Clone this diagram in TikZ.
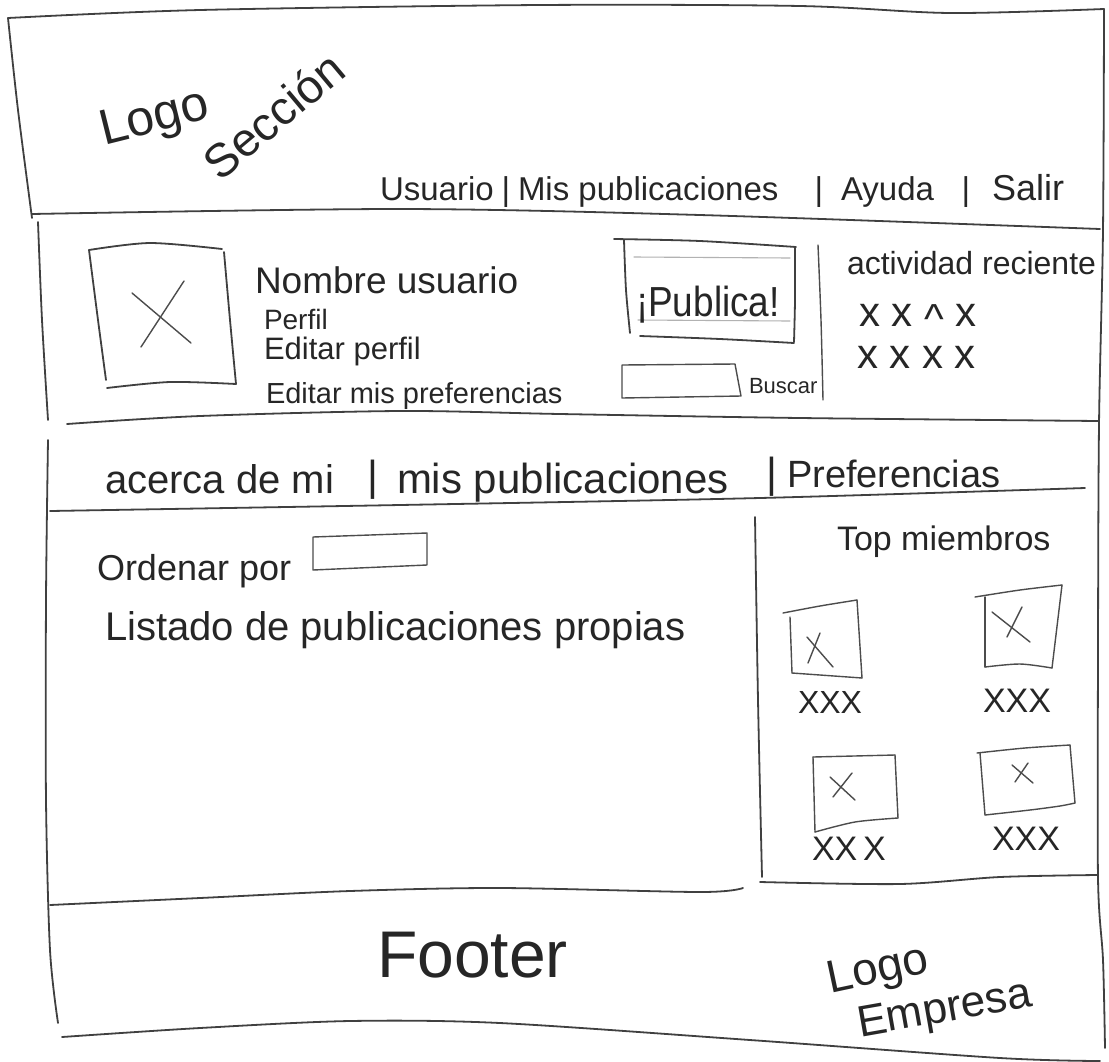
\documentclass[tikz,border=0pt]{standalone}
\usepackage{fontspec}
\setmainfont{Liberation Sans}
\newcommand{\fsz}[1]{\fontsize{#1}{#1}\selectfont}
\tikzset{
  pen/.style={draw=black!75, line width=1.8pt, line cap=round, line join=round},
  thinpen/.style={draw=black!70, line width=1.4pt, line cap=round, line join=round},
  faint/.style={draw=black!30, line width=1.1pt, line cap=round},
  hand/.style={inner sep=0pt, outer sep=0pt, text=black!85, anchor=base west},
  barmark/.style={inner sep=0pt, outer sep=0pt, text=black!85, anchor=base},
}
\begin{document}
\begin{tikzpicture}[x=1pt,y=-1pt]
\fill[white] (0,0) rectangle (1109,1061);
\path[use as bounding box] (0,0) rectangle (1109,1061);

% ---------- frame and section lines ----------
\draw[pen] plot[smooth, tension=0.5] coordinates {(8,18) (200,10) (540,5) (800,6) (950,13) (1104,9)};
\draw[pen] plot[smooth, tension=0.5] coordinates {(8,18) (18,110) (32,218)};
\draw[pen] plot[smooth, tension=0.5] coordinates {(1104,9) (1103,230) (1099,425) (1098,650) (1098,878) (1103,960) (1105,1048)};
\draw[pen] plot[smooth, tension=0.5] coordinates {(32,214) (400,209) (700,215) (1100,229)};
% profile section
\draw[pen] plot[smooth, tension=0.5] coordinates {(38,222) (42,320) (48,420)};
\draw[pen] plot[smooth, tension=0.5] coordinates {(67,424) (200,416) (400,411) (560,414) (800,418) (1099,421)};
% tabs and content
\draw[pen] plot[smooth, tension=0.5] coordinates {(48,440) (46,600) (46,800) (50,950) (58,1023)};
\draw[pen] plot[smooth, tension=0.5] coordinates {(50,511) (400,505) (760,498) (1085,488)};
\draw[pen] plot[smooth, tension=0.5] coordinates {(755,517) (758,700) (762,877)};
\draw[pen] plot[smooth, tension=0.5] coordinates {(760,882) (900,884) (1000,877) (1097,875)};
% footer
\draw[pen] plot[smooth, tension=0.5] coordinates {(50,905) (200,898) (350,891) (500,888) (700,892) (743,888)};
\draw[pen] plot[smooth, tension=0.5] coordinates {(62,1037) (200,1028) (350,1021) (500,1023) (750,1040) (1000,1058) (1100,1061)};

% ---------- header ----------
\node[hand, rotate=14, font=\fsz{50}] (logo) at (104,145) {Logo};
\node[hand, rotate=40, font=\fsz{47}] (seccion) at (220,182) {Sección};
\node[hand, font=\fsz{33}] (navuser) at (380,200) {Usuario};
\node[barmark, font=\fsz{33}] (navbarA) at (506,200) {|};
\node[hand, font=\fsz{33}] (navpubs) at (518,200) {Mis publicaciones};
\node[barmark, font=\fsz{33}] (navbarB) at (819,200) {|};
\node[hand, font=\fsz{33}] (navhelp) at (841,200) {Ayuda};
\node[barmark, font=\fsz{33}] (navbarC) at (966,200) {|};
\node[hand, font=\fsz{36}] (navexit) at (992,200) {Salir};

% ---------- profile ----------
\draw[pen] plot[smooth, tension=0.5] coordinates {(89,250) (150,243) (222,249)};
\draw[pen] plot[smooth, tension=0.5] coordinates {(224,252) (230,320) (236,384)};
\draw[pen] plot[smooth, tension=0.5] coordinates {(89,250) (98,320) (106,380)};
\draw[pen] plot[smooth, tension=0.5] coordinates {(107,388) (170,382) (236,384)};
\draw[thinpen] (132,293) -- (191,343);
\draw[thinpen] (184,281) -- (141,347);

\node[hand, font=\fsz{37}] (nombre) at (255,293) {Nombre usuario};
\node[hand, font=\fsz{28}] (perfil) at (264,329) {Perfil};
\node[hand, font=\fsz{31}] (editperfil) at (264,359) {Editar perfil};
\node[hand, font=\fsz{29}] (editpref) at (266,403) {Editar mis preferencias};

% publica button
\draw[pen] plot[smooth, tension=0.5] coordinates {(614,239) (700,241) (796,247)};
\draw[pen] plot[smooth, tension=0.5] coordinates {(795,247) (795,300) (794,342)};
\draw[pen] plot[smooth, tension=0.5] coordinates {(640,336) (720,339) (794,343)};
\draw[pen] plot[smooth, tension=0.5] coordinates {(624,240) (626,290) (630,333)};
\draw[faint] (634,257) -- (790,258);
\draw[faint] (638,320) -- (790,321);
\node[hand, font=\fsz{42}] (publica) at (636,316) {\scalebox{0.88}[1]{¡Publica!}};

% search
\draw[thinpen] (622,365) -- (735,364) -- (741,396) -- (622,398) -- cycle;
\node[hand, font=\fsz{22}] (buscar) at (749,393) {Buscar};
\draw[thinpen] plot[smooth, tension=0.5] coordinates {(818,245) (821,320) (823,400)};

% recent activity
\node[hand, font=\fsz{32}] (actividad) at (847,274) {actividad reciente};
\node[hand, font=\fsz{42}] (actrowA) at (859,326) {x x \raisebox{-0.35ex}{\^{}} x};
\node[hand, font=\fsz{42}] (actrowB) at (857,368) {x x x x};

% ---------- tabs ----------
\node[hand, font=\fsz{40}] (tababout) at (105,493) {acerca de mi};
\node[barmark, font=\fsz{42}] (tabbarA) at (373,490) {|};
\node[hand, font=\fsz{42}] (tabpubs) at (397,493) {mis publicaciones};
\node[barmark, font=\fsz{42}] (tabbarB) at (772,487) {|};
\node[hand, font=\fsz{38}] (tabprefs) at (787,487) {Preferencias};

% ---------- content ----------
\node[hand, font=\fsz{36}] (ordenar) at (97,580) {Ordenar por};
\draw[thinpen] (313,537) -- (427,533) -- (427,565) -- (313,570) -- cycle;
\node[hand, font=\fsz{40}] (listado) at (105,640) {Listado de publicaciones propias};

% ---------- top members ----------
\node[hand, font=\fsz{34}] (topmiem) at (837,550) {Top miembros};
% member 1
\draw[thinpen] plot[smooth, tension=0.5] coordinates {(783,613) (820,606) (857,600)};
\draw[thinpen] (857,600) -- (862,678);
\draw[thinpen] (792,673) -- (862,678);
\draw[thinpen] (790,617) -- (792,673);
\draw[thinpen] (807,637) -- (833,667);
\draw[thinpen] (820,633) -- (808,663);
\node[hand, font=\fsz{32}] (memlabA) at (798,713) {XXX};
% member 2
\draw[thinpen] plot[smooth, tension=0.5] coordinates {(975,597) (1020,590) (1062,585)};
\draw[thinpen] (1062,585) -- (1052,668);
\draw[thinpen] plot[smooth, tension=0.5] coordinates {(985,667) (1020,664) (1052,668)};
\draw[thinpen] (985,597) -- (985,667);
\draw[thinpen] (992,612) -- (1030,642);
\draw[thinpen] (1022,607) -- (1007,637);
\node[hand, font=\fsz{34}] (memlabB) at (983,712) {XXX};
% member 3
\draw[thinpen] (813,757) -- (895,755);
\draw[thinpen] (895,755) -- (898,818);
\draw[thinpen] plot[smooth, tension=0.5] coordinates {(815,832) (855,822) (898,818)};
\draw[thinpen] (813,757) -- (815,832);
\draw[thinpen] (830,777) -- (855,800);
\draw[thinpen] (852,773) -- (833,797);
\node[hand, font=\fsz{34}] (memlabC) at (812,860) {XX\,X};
% member 4
\draw[thinpen] plot[smooth, tension=0.5] coordinates {(977,753) (1025,748) (1070,745)};
\draw[thinpen] (1070,745) -- (1075,803);
\draw[thinpen] plot[smooth, tension=0.5] coordinates {(985,815) (1030,810) (1060,806) (1075,803)};
\draw[thinpen] (980,753) -- (985,815);
\draw[thinpen] (1012,765) -- (1033,783);
\draw[thinpen] (1028,763) -- (1015,782);
\node[hand, font=\fsz{34}] (memlabD) at (992,850) {XXX};

% ---------- footer ----------
\node[hand, font=\fsz{66}] (footer) at (377,977) {Footer};
\node[hand, rotate=12, font=\fsz{46}] (logoemp) at (830,993) {Logo};
\node[hand, rotate=10, font=\fsz{44}] (empresa) at (860,1037) {Empresa};
\end{tikzpicture}
\end{document}
